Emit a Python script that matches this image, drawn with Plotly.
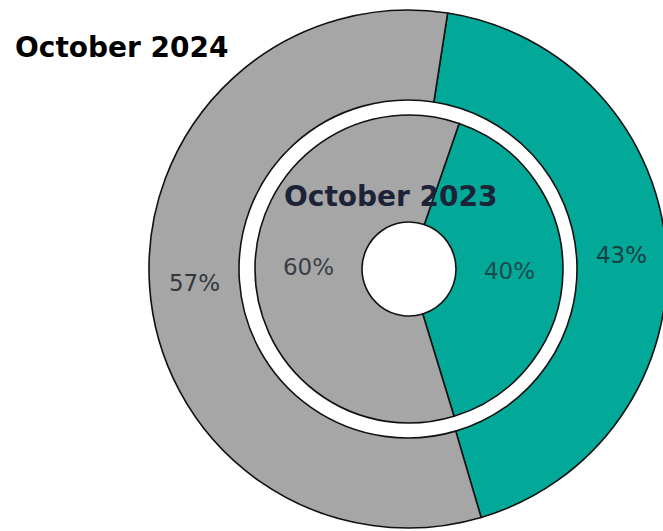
import plotly.graph_objects as go

categories = ["Teal", "Grey"]
outer_values_2024 = [43, 57]
inner_values_2023 = [40, 60]
outer_title = "October 2024"
inner_title = "October 2023"

W, H = 670, 531
teal = "#02A998"
grey = "#A6A6A6"

def px_x(a, b):
    return [a / W, b / W]

def px_y(top, bottom):
    return [1 - bottom / H, 1 - top / H]

fig = go.Figure()

fig.add_trace(go.Pie(
    labels=categories,
    values=outer_values_2024,
    hole=169 / 259,
    sort=False,
    direction="clockwise",
    rotation=8.8,
    marker=dict(colors=[teal, grey], line=dict(color="#111111", width=1.6)),
    texttemplate="%{value}%",
    textposition="inside",
    insidetextorientation="horizontal",
    textfont=dict(family="DejaVu Sans", size=23, color=["#17403F", "#33363B"]),
    domain=dict(x=px_x(149, 667), y=px_y(10, 528)),
    showlegend=False,
    hoverinfo="label+percent",
))

fig.add_trace(go.Pie(
    labels=categories,
    values=inner_values_2023,
    hole=47 / 154,
    sort=False,
    direction="clockwise",
    rotation=19,
    marker=dict(colors=[teal, grey], line=dict(color="#111111", width=1.6)),
    texttemplate="%{value}%",
    textposition="inside",
    insidetextorientation="horizontal",
    textfont=dict(family="DejaVu Sans", size=23, color=["#1A4A4E", "#3A3E46"]),
    domain=dict(x=px_x(255, 563), y=px_y(115, 423)),
    showlegend=False,
    hoverinfo="label+percent",
))

fig.add_annotation(
    text=outer_title, x=13 / W, y=1 - 47 / H, xref="paper", yref="paper",
    xanchor="left", yanchor="middle", showarrow=False,
    font=dict(family="DejaVu Sans", size=28, color="#000000", weight="bold"),
)
fig.add_annotation(
    text=inner_title, x=391 / W, y=1 - 196 / H, xref="paper", yref="paper",
    xanchor="center", yanchor="middle", showarrow=False,
    font=dict(family="DejaVu Sans", size=28, color="#1C2237", weight="bold"),
)

fig.update_layout(
    width=W, height=H,
    margin=dict(l=0, r=0, t=0, b=0),
    paper_bgcolor="white",
    plot_bgcolor="white",
)

fig.write_html(
    "out.html",
    config={"displayModeBar": False},
    post_script="document.body.style.margin='0';document.body.style.overflow='hidden';",
)
